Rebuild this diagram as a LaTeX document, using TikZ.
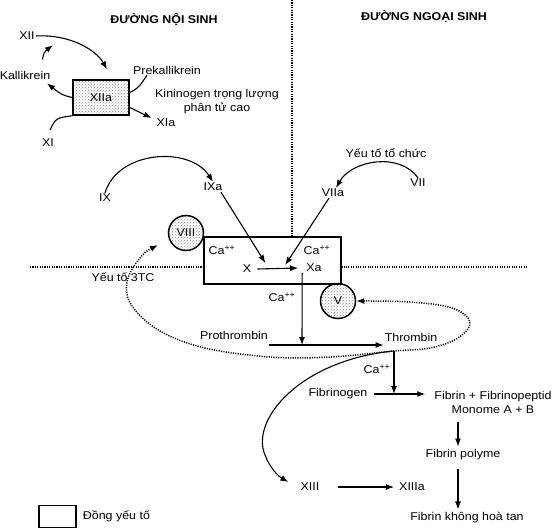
\documentclass[tikz,border=0pt]{standalone}
\usepackage{fontspec}
\setmainfont{Liberation Sans}[FakeStretch=1.1]
\usetikzlibrary{arrows.meta,patterns,positioning,calc}

\tikzset{
  cofactor/.style={draw, line width=1.5pt, pattern=crosshatch dots, pattern color=black!45},
  link/.style={line width=1.1pt, -{Latex[length=8pt,width=6pt]}},
  pathway/.style={line width=1.5pt, dash pattern=on 1.1pt off 1.3pt},
}

\begin{document}
\begin{tikzpicture}[x=1pt, y=-1pt, font=\fontsize{11.3}{13}\selectfont, inner sep=1pt]
    \useasboundingbox (0,0) rectangle (554,530);

    \path
        (164,19)    node (hnoi)   {\bfseries ĐƯỜNG NỘI SINH}
        (424,17)    node (hngoai) {\bfseries ĐƯỜNG NGOẠI SINH}
        (27,36)     node (xii)    {XII}
        (25,75)     node (kal)    {Kallikrein}
        (101,97.5)  node (xiia)   [cofactor, minimum width=56pt, minimum height=35pt] {XIIa}
        (48,143)    node (xi)     {XI}
        (167,70)    node (prek)   {Prekallikrein}
        (217,102)   node (kin)    [align=center] {Kininogen trọng lượng\\[1pt]phân tử cao}
        (166,123)   node (xia)    {XIa}
        (105,198)   node (ix)     {IX}
        (213,187)   node (ixa)    {IXa}
        (386,153)   node (ytc)    {Yếu tố tổ chức}
        (418,183)   node (vii)    {VII}
        (333,193)   node (viia)   {VIIa}
        (272.5,260.5) node (ten)  [draw, line width=1.5pt, minimum width=137pt, minimum height=47pt] {}
        (222,250)   node (ca1)    {Ca\textsuperscript{++}}
        (317,250)   node (ca2)    {Ca\textsuperscript{++}}
        (247,269)   node (x)      {X}
        (314,268)   node (xa)     {Xa}
        (186,233)   node (viii)   [cofactor, circle, minimum size=35pt, inner sep=0pt] {VIII}
        (338,301)   node (v)      [cofactor, circle, minimum size=35pt, inner sep=0pt] {V}
        (282,297)   node (ca3)    {Ca\textsuperscript{++}}
        (123,277)   node (f3)     {Yếu tố 3TC}
        (234,335)   node (prot)   {Prothrombin}
        (411,337)   node (thr)    {Thrombin}
        (377,369)   node (ca4)    {Ca\textsuperscript{++}}
        (338,394)   node (fgn)    {Fibrinogen}
        (493,402)   node (fib)    [align=center] {Fibrin + Fibrinopeptid\\[1pt]Monome A + B}
        (463,455)   node (fpol)   {Fibrin polyme}
        (467,518)   node (fkht)   {Fibrin không hoà tan}
        (310,487)   node (xiii)   {XIII}
        (412,487)   node (xiiia)  {XIIIa};

    \node (leg) [draw, line width=1.5pt, minimum width=37pt, minimum height=22pt] at (57.5,516.5) {};
    \node (legtxt) [right=5pt of leg] {Đồng yếu tố};

    \coordinate (vtop) at (292,0);
    \coordinate (hl) at (30,267);
    \coordinate (hr) at (527,267);
    \coordinate (pj) at (302,345);
    \coordinate (tb) at (394,351);
    \coordinate (f3tip) at (158,245);

    \draw[pathway] (vtop) -- (vtop |- ten.north);
    \draw[pathway] (hl) -- (hl -| ten.west);
    \draw[pathway] (hr) -- (hr -| ten.east);

    \draw[link] (xii.east) .. controls (70,34) and (96,50) .. ([xshift=6pt,yshift=10pt]xiia.north);
    \draw[link] ([xshift=-9pt,yshift=10pt]kal.north east) .. controls (44,52) .. ([xshift=26pt,yshift=-4pt]xii.south);
    \draw[link] (xiia.west) .. controls (62,95) .. ([xshift=22pt,yshift=-3pt]kal.south);
    \draw[line width=1.1pt] ([xshift=2pt,yshift=8pt]xi.north) .. controls (56,118) .. (xiia.south west);
    \draw[line width=1.1pt] ([yshift=5pt]xiia.east) .. controls (140,88) and (142,82) .. ([xshift=15pt]prek.south west);
    \draw[link] ([yshift=-10pt]xiia.east) -- ([xshift=-4pt,yshift=5pt]xia.west);

    \draw[link] (ix.north) .. controls (118,150) and (190,146) .. (ixa.north);
    \draw[link] ([xshift=8pt]ixa.south) -- ([xshift=13pt,yshift=6pt]x.east);
    \draw[link] (vii.north) .. controls (400,152) and (352,160) .. ([xshift=3pt]viia.north);
    \draw[link] ([xshift=-4pt]viia.south) -- ([xshift=-20pt,yshift=3pt]xa.west);
    \draw[link] ([xshift=5pt]x.east) -- ([xshift=-7pt]xa.west);

    \draw[link] ([xshift=-3pt]xa.south west) -- (pj);
    \draw[link] (pj -| prot.east) -- (pj -| thr.west);
    \draw[link] (tb) -- (tb |- fgn.east);
    \draw[link] ([xshift=5pt]fgn.east) -- ($(fgn.east -| fib.west)+(-8,0)$);
    \draw[link] ($(fpol.north |- fib.south)+(-5,8)$) -- ($(fpol.north)+(-5,-2)$);
    \draw[link] ($(fpol.south)+(-5,8)$) -- ($(fkht.north)+(-9,-2)$);
    \draw[link] ([xshift=17pt]xiii.east) -- ([xshift=-4pt]xiiia.west);
    \draw[link] (tb) .. controls (300,360) and (250,420) .. (265,455)
        .. controls (270,468) and (278,476) .. ([xshift=-11pt,yshift=5pt]xiii.west);

    \draw[pathway, {Latex[length=8pt,width=6pt]}-{Latex[length=8pt,width=6pt]}]
        plot[smooth, tension=0.6] coordinates {(f3tip) (140,258) (127,282) (132,306) (160,331)
        (205,348) (270,357) (330,357) (tb) (430,348) (458,338) (470,322) (452,308) (410,302) (v.east)};
\end{tikzpicture}
\end{document}
